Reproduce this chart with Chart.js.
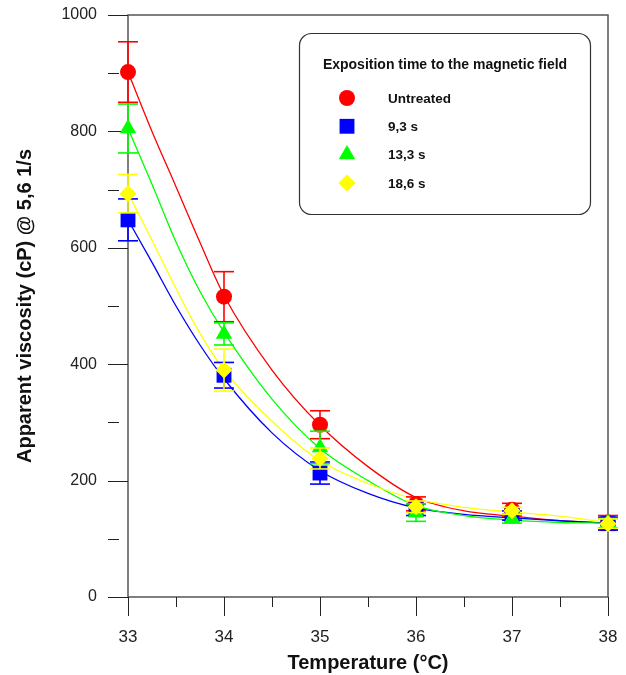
<!DOCTYPE html>
<html>
<head>
<meta charset="utf-8">
<script src="https://cdn.jsdelivr.net/npm/chart.js@4.4.0/dist/chart.umd.min.js"></script>
<style>
  html, body { margin: 0; padding: 0; background: #fff; }
  #wrap { width: 626px; height: 675px; }
</style>
</head>
<body>
<div id="wrap"><canvas id="chart" width="626" height="675"></canvas></div>
<script>
// Measured temperatures (°C)
const temps = [33, 34, 35, 36, 37, 38];

// Apparent viscosity (cP) and error bar half-heights, per exposition time
const untreated = [902, 516, 296, 160, 150, 128];
const untreatedErr = [52, 43, 24, 12, 11, 12];
const s93 = [648, 381, 213, 150, 140, 126];
const s93Err = [36, 22, 19, 10, 8, 11];
const s133 = [805, 452, 257, 145, 135, 127];
const s133Err = [42, 19, 28, 15, 8, 8];
const s186 = [693, 390, 238, 155, 148, 126];
const s186Err = [33, 36, 18, 10, 6, 8];

// Fitted curves
const fitTemps = [33, 33.25, 33.5, 33.75, 34, 34.5, 35, 35.5, 36, 36.5, 37, 37.5, 38];
const fitUntreated = [902, 800, 705, 609, 518, 390, 295, 224, 171, 148, 139, 131, 127];
const fitS93 = [648, 575, 500, 433, 375, 282, 217, 178, 153, 142, 136, 131, 127];
const fitS133 = [805, 709, 610, 525, 455, 340, 255, 200, 157, 140, 132, 128, 127];
const fitS186 = [694, 613, 530, 453, 390, 302, 234, 195, 168, 154, 146, 139, 128];

const seriesLabels = ["Untreated", "9,3 s", "13,3 s", "18,6 s"];
const legendTitle = "Exposition time to the magnetic field";

// Minor tick positions
const yMinorTicks = [100, 300, 500, 700, 900];
const xMinorTicks = [33.5, 34.5, 35.5, 36.5, 37.5];

const RED = "#ff0000";
const BLUE = "#0000ff";
const GREEN = "#00ff00";
const YELLOW = "#ffff00";

function toPoints(xs, ys) {
  return xs.map((x, i) => ({ x: x, y: ys[i] }));
}

function fitLine(values, color, order) {
  return {
    type: "line",
    data: toPoints(fitTemps, values),
    borderColor: color,
    borderWidth: 1.3,
    pointRadius: 0,
    cubicInterpolationMode: "monotone",
    fill: false,
    order: order,
    clip: false,
  };
}

function markers(label, values, errors, color, style, radius, order) {
  return {
    type: "line",
    label: label,
    data: toPoints(temps, values),
    errors: errors,
    showLine: false,
    pointStyle: style,
    pointRadius: radius,
    pointBackgroundColor: color,
    pointBorderWidth: 0,
    borderColor: color,
    order: order,
    clip: false,
  };
}

const datasets = [
  fitLine(fitUntreated, RED, 13),
  fitLine(fitS93, BLUE, 12),
  fitLine(fitS133, GREEN, 11),
  fitLine(fitS186, YELLOW, 10),
  markers(seriesLabels[0], untreated, untreatedErr, RED, "circle", 8, 3),
  markers(seriesLabels[1], s93, s93Err, BLUE, "rect", 10.5, 2),
  markers(seriesLabels[2], s133, s133Err, GREEN, "triangle", 9.5, 1),
  markers(seriesLabels[3], s186, s186Err, YELLOW, "rectRot", 8.5, 0),
];

function line(ctx, x1, y1, x2, y2) {
  ctx.beginPath();
  ctx.moveTo(x1, y1);
  ctx.lineTo(x2, y2);
  ctx.stroke();
}

const framePlugin = {
  id: "frame",
  beforeDatasetsDraw(chart) {
    const { ctx, chartArea: a, scales } = chart;
    const x = scales.x;
    const y = scales.y;
    ctx.save();
    // axis frame
    ctx.strokeStyle = "#555";
    ctx.lineWidth = 1.5;
    ctx.strokeRect(a.left, a.top, a.right - a.left, a.bottom - a.top);

    // ticks, outside
    ctx.strokeStyle = "#222";
    ctx.lineWidth = 1;
    y.ticks.forEach((t) => {
      const py = Math.round(y.getPixelForValue(t.value)) + 0.5;
      line(ctx, a.left - 20, py, a.left, py);
    });
    yMinorTicks.forEach((v) => {
      const py = Math.round(y.getPixelForValue(v)) + 0.5;
      line(ctx, a.left - 20, py, a.left - 9, py);
    });
    x.ticks.forEach((t) => {
      const px = Math.round(x.getPixelForValue(t.value)) + 0.5;
      line(ctx, px, a.bottom, px, a.bottom + 19);
    });
    xMinorTicks.forEach((v) => {
      const px = Math.round(x.getPixelForValue(v)) + 0.5;
      line(ctx, px, a.bottom, px, a.bottom + 10);
    });
    ctx.restore();
  },
  afterDatasetDraw(chart, args) {
    const ds = chart.data.datasets[args.index];
    if (!ds.errors) return;
    const { ctx, scales } = chart;
    ctx.save();
    ctx.strokeStyle = ds.borderColor;
    ctx.lineWidth = 1.6;
    ds.data.forEach((p, i) => {
      const px = scales.x.getPixelForValue(p.x);
      const top = scales.y.getPixelForValue(p.y + ds.errors[i]);
      const bot = scales.y.getPixelForValue(p.y - ds.errors[i]);
      line(ctx, px, top, px, bot);
      line(ctx, px - 10, top, px + 10, top);
      line(ctx, px - 10, bot, px + 10, bot);
    });
    ctx.restore();
  },
  afterDraw(chart) {
    const ctx = chart.ctx;
    ctx.save();
    // rounded legend box
    ctx.strokeStyle = "#333";
    ctx.lineWidth = 1.2;
    ctx.fillStyle = "#fff";
    ctx.beginPath();
    ctx.roundRect(299.5, 33.5, 291, 181, 12);
    ctx.fill();
    ctx.stroke();

    ctx.fillStyle = "#111";
    ctx.textBaseline = "middle";
    ctx.textAlign = "center";
    ctx.font = "bold 14px 'Liberation Sans', Arial, sans-serif";
    ctx.fillText(legendTitle, 445, 65);

    const entries = chart.data.datasets.filter((d) => d.errors);
    ctx.textAlign = "left";
    ctx.font = "bold 13.5px 'Liberation Sans', Arial, sans-serif";
    entries.forEach((d, i) => {
      const rowY = 98 + i * 28.3;
      ctx.fillStyle = d.pointBackgroundColor;
      Chart.helpers.drawPoint(ctx, {
        pointStyle: d.pointStyle,
        radius: d.pointRadius,
        rotation: 0,
        borderWidth: 0,
      }, 347, rowY);
      ctx.fillStyle = "#111";
      ctx.fillText(d.label, 388, rowY + 1);
    });
    ctx.restore();
  },
};

new Chart(document.getElementById("chart"), {
  type: "line",
  data: { datasets: datasets },
  options: {
    responsive: false,
    animation: false,
    devicePixelRatio: 1,
    layout: { autoPadding: false, padding: { top: 15, right: 18, left: 0, bottom: 0 } },
    plugins: {
      legend: { display: false },
      tooltip: { enabled: false },
    },
    scales: {
      x: {
        type: "linear",
        min: 33,
        max: 38,
        afterFit: (s) => {
          s.height = 78;
          s.paddingLeft = 0;
          s.paddingRight = 0;
        },
        grid: { display: false, drawTicks: false },
        border: { display: false },
        ticks: {
          stepSize: 1,
          padding: 30,
          color: "#222",
          font: { family: "'Liberation Sans', Arial, sans-serif", size: 17 },
          callback: (v) => String(v),
        },
        title: {
          display: true,
          text: "Temperature (°C)",
          color: "#111",
          padding: { top: 5, bottom: 0 },
          font: { family: "'Liberation Sans', Arial, sans-serif", size: 20, weight: "bold" },
        },
      },
      y: {
        type: "linear",
        min: 0,
        max: 1000,
        afterFit: (s) => {
          s.width = 128;
          s.paddingTop = 0;
          s.paddingBottom = 0;
        },
        grid: { display: false, drawTicks: false },
        border: { display: false },
        ticks: {
          stepSize: 200,
          padding: 31,
          color: "#222",
          font: { family: "'Liberation Sans', Arial, sans-serif", size: 16 },
          callback: (v) => String(v),
        },
        title: {
          display: true,
          text: "Apparent viscosity (cP) @ 5,6 1/s",
          color: "#111",
          padding: { top: 13, bottom: 0 },
          font: { family: "'Liberation Sans', Arial, sans-serif", size: 20, weight: "bold" },
        },
      },
    },
  },
  plugins: [framePlugin],
});
</script>
</body>
</html>
